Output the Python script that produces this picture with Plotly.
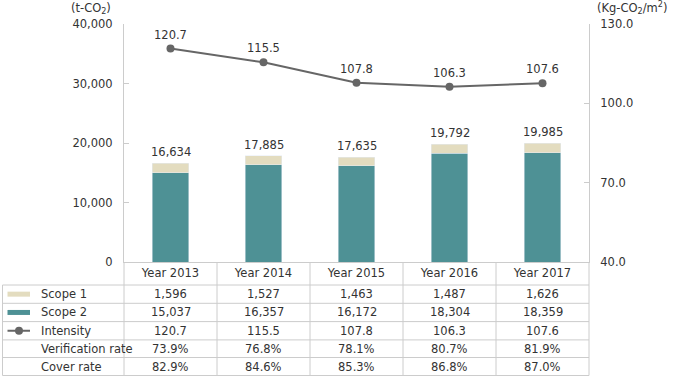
import plotly.graph_objects as go

categories = ["Year 2013", "Year 2014", "Year 2015", "Year 2016", "Year 2017"]
scope1 = [1596, 1527, 1463, 1487, 1626]
scope2 = [15037, 16357, 16172, 18304, 18359]
totals = [16634, 17885, 17635, 19792, 19985]
intensity = [120.7, 115.5, 107.8, 106.3, 107.6]
verification = ["73.9%", "76.8%", "78.1%", "80.7%", "81.9%"]
cover = ["82.9%", "84.6%", "85.3%", "86.8%", "87.0%"]
row_labels = ["Scope 1", "Scope 2", "Intensity", "Verification rate", "Cover rate"]

C1 = "#E3DCBF"
C2 = "#4E9195"
CL = "#666666"
GRID = "#CCCCCC"
TXT = "#333333"
FONT = "DejaVu Sans"
FS = 11.5

W, H = 676, 377
L, R, T, B = 124, 589, 24, 262  # plot area in pixels
pw, ph = R - L, B - T

def px(x):
    return (x - L) / pw

def py(y):
    return (B - y) / ph

fig = go.Figure()
fig.add_trace(go.Bar(x=categories, y=scope2, marker_color=C2, width=0.39, name="Scope 2"))
fig.add_trace(go.Bar(x=categories, y=scope1, marker_color=C1, width=0.39, name="Scope 1"))
fig.add_trace(go.Scatter(x=categories, y=intensity, yaxis="y2", mode="lines+markers",
                         line=dict(color=CL, width=2), marker=dict(size=8, color=CL),
                         name="Intensity"))

ann = []
for i, t in enumerate(totals):
    ann.append(dict(x=i, y=t, xref="x", yref="y", text=f"{t:,}", showarrow=False,
                    yshift=11, font=dict(size=FS, color=TXT)))
for i, v in enumerate(intensity):
    ann.append(dict(x=i, y=v, xref="x", yref="y2", text=f"{v:.1f}", showarrow=False,
                    yshift=14, font=dict(size=FS, color=TXT)))

# table
row_tops = [285, 303.3, 321.6, 339.9, 357.5, 375.5]
rows = [[f"{v:,}" for v in scope1], [f"{v:,}" for v in scope2],
        [f"{v:.1f}" for v in intensity], verification, cover]
shapes = []
for k, lab in enumerate(row_labels):
    yc = (row_tops[k] + row_tops[k + 1]) / 2
    ann.append(dict(x=px(39), y=py(yc), xref="paper", yref="paper", text=lab, showarrow=False,
                    xanchor="left", yanchor="middle", font=dict(size=FS, color=TXT)))
    for i, val in enumerate(rows[k]):
        ann.append(dict(x=i, y=py(yc), xref="x", yref="paper", text=val, showarrow=False,
                        xanchor="center", yanchor="middle", font=dict(size=FS, color=TXT)))
for y in row_tops:
    shapes.append(dict(type="line", xref="paper", yref="paper", x0=px(2.5), x1=1, y0=py(y), y1=py(y),
                       line=dict(color=GRID, width=1)))
shapes.append(dict(type="line", xref="paper", yref="paper", x0=px(2.5), x1=px(2.5),
                   y0=py(row_tops[0]), y1=py(row_tops[-1]), line=dict(color=GRID, width=1)))
for j in range(len(categories) + 1):
    xp = j / len(categories)
    shapes.append(dict(type="line", xref="paper", yref="paper", x0=xp, x1=xp,
                       y0=0, y1=py(row_tops[-1]), line=dict(color=GRID, width=1)))

# legend symbols in table
def rowc(k):
    return (row_tops[k] + row_tops[k + 1]) / 2
for k, col in [(0, C1), (1, C2)]:
    yc = rowc(k)
    shapes.append(dict(type="rect", xref="paper", yref="paper", x0=px(7.5), x1=px(30),
                       y0=py(yc - 2.5), y1=py(yc + 2.5), fillcolor=col, line=dict(width=0)))
yc = rowc(2)
shapes.append(dict(type="line", xref="paper", yref="paper", x0=px(7.5), x1=px(30), y0=py(yc), y1=py(yc),
                   line=dict(color=CL, width=2)))
shapes.append(dict(type="circle", xref="paper", yref="paper", x0=px(15), x1=px(23),
                   y0=py(yc - 4), y1=py(yc + 4), fillcolor=CL, line=dict(width=0)))

# axis titles
ann.append(dict(x=px(113), y=py(8), xref="paper", yref="paper", text="(t-CO<sub>2</sub>)",
                showarrow=False, xanchor="right", yanchor="middle", font=dict(size=FS, color=TXT)))
ann.append(dict(x=px(595), y=py(8), xref="paper", yref="paper", text="(Kg-CO<sub>2</sub>/m<sup>2</sup>)",
                showarrow=False, xanchor="left", yanchor="middle", font=dict(size=FS, color=TXT)))

fig.update_layout(
    width=W, height=H, barmode="stack", showlegend=False,
    margin=dict(l=L, r=W - R, t=T, b=H - B, autoexpand=False),
    paper_bgcolor="white", plot_bgcolor="white",
    font=dict(family=FONT, size=FS, color=TXT),
    xaxis=dict(showline=True, linecolor=GRID, ticks="", showgrid=False, automargin=False,
               tickfont=dict(size=FS, color=TXT)),
    yaxis=dict(range=[0, 40000], dtick=10000, tickformat=",", showline=True, linecolor=GRID,
               ticks="inside", ticklen=5, tickcolor=GRID, showgrid=False, zeroline=False,
               ticklabelstandoff=8, automargin=False, tickfont=dict(size=FS, color=TXT)),
    yaxis2=dict(range=[40, 130], tick0=40, dtick=30, tickformat=".1f", overlaying="y", side="right",
                showline=True, linecolor=GRID, ticks="inside", ticklen=5, tickcolor=GRID,
                showgrid=False, zeroline=False, ticklabelstandoff=8, automargin=False,
                tickfont=dict(size=FS, color=TXT)),
    annotations=ann, shapes=shapes,
)
fig.write_html("out.html", config={"displayModeBar": False},
               post_script="document.body.style.margin='0';document.body.style.padding='0';")
